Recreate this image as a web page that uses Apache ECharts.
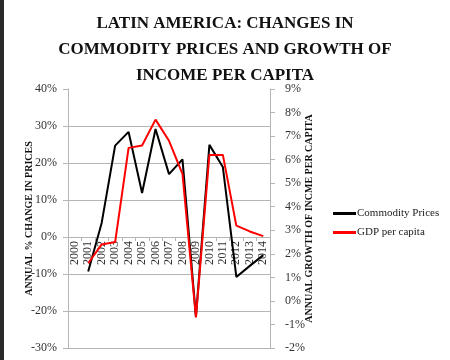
<!DOCTYPE html>
<html>
<head>
<meta charset="utf-8">
<script src="https://cdn.jsdelivr.net/npm/echarts@6/dist/echarts.min.js"></script>
<style>html,body{margin:0;padding:0;background:#fff}#c{width:450px;height:360px}</style>
</head>
<body>
<div id="c"></div>
<script>
var years = ['2000','2001','2002','2003','2004','2005','2006','2007','2008','2009','2010','2011','2012','2013','2014'];
var commodityPrices = [null, -9.3, 3.8, 24.7, 28.4, 11.9, 29.2, 17.0, 21.0, -21.5, 24.9, 18.9, -10.8, -7.8, -4.9];
var gdpPerCapita = [null, 1.6, 2.4, 2.5, 6.5, 6.6, 7.7, 6.8, 5.4, -0.7, 6.2, 6.2, 3.2, 2.95, 2.75];
var leftTicks = {min: -30, max: 40, interval: 10};
var rightTicks = {min: -2, max: 9, interval: 1};
var titleText = 'LATIN AMERICA: CHANGES IN\nCOMMODITY PRICES AND GROWTH OF\nINCOME PER CAPITA';

var serif = '"Liberation Serif", "DejaVu Serif", serif';
var gridTop = 89, gridBottom = 12, H = 360;
var plotH = H - gridTop - gridBottom;
// place the category axis on the 0% line of the left axis
var zeroOffset = -plotH * (0 - leftTicks.min) / (leftTicks.max - leftTicks.min);
var gridColors = [];
for (var v = leftTicks.min; v <= leftTicks.max; v += leftTicks.interval) {
  gridColors.push(v === leftTicks.max ? 'rgba(0,0,0,0)' : '#b5b5b5');
}

var chart = echarts.init(document.getElementById('c'), null, {renderer: 'canvas'});
chart.setOption({
  backgroundColor: '#fff',
  animation: false,
  title: {
    text: titleText,
    left: 'center',
    top: 6,
    textStyle: {fontFamily: serif, fontWeight: 'bold', fontSize: 17, lineHeight: 26, color: '#111'}
  },
  graphic: [{type: 'rect', left: 0, top: 0, shape: {width: 4, height: 360}, style: {fill: '#2a2a2a'}}],
  legend: {
    orient: 'vertical',
    left: 328,
    top: 203,
    itemWidth: 23,
    itemHeight: 3,
    itemGap: 8,
    icon: 'rect',
    textStyle: {fontFamily: serif, fontSize: 11, color: '#222', padding: [0, 0, 0, -4]},
    data: ['Commodity Prices', 'GDP per capita']
  },
  grid: {left: 68, right: 180, top: gridTop, bottom: gridBottom, containLabel: false, outerBoundsMode: 'none'},
  xAxis: {
    type: 'category',
    data: years,
    boundaryGap: true,
    position: 'bottom',
    offset: zeroOffset,
    axisLine: {show: true, onZero: false, lineStyle: {color: '#b5b5b5'}},
    axisTick: {show: true, length: 4, lineStyle: {color: '#b5b5b5'}},
    axisLabel: {rotate: 90, fontFamily: serif, fontSize: 12, color: '#333', margin: 4, interval: 0}
  },
  yAxis: [{
    type: 'value',
    min: leftTicks.min, max: leftTicks.max, interval: leftTicks.interval,
    name: 'ANNUAL % CHANGE IN PRICES',
    nameLocation: 'middle',
    nameRotate: 90,
    nameGap: 34,
    nameMoveOverlap: false,
    nameTextStyle: {fontFamily: serif, fontWeight: 'bold', fontSize: 10, color: '#111'},
    axisLine: {show: true, lineStyle: {color: '#b5b5b5'}},
    axisTick: {show: true, length: 5, lineStyle: {color: '#b5b5b5'}},
    axisLabel: {formatter: '{value}%', fontFamily: serif, fontSize: 12, color: '#333', margin: 11},
    splitLine: {show: true, lineStyle: {color: gridColors, width: 1}}
  }, {
    type: 'value',
    position: 'right',
    min: rightTicks.min, max: rightTicks.max, interval: rightTicks.interval,
    name: 'ANNUAL GROWTH OF INCME PER CAPITA',
    nameLocation: 'middle',
    nameRotate: 90,
    nameGap: 34,
    nameMoveOverlap: false,
    nameTextStyle: {fontFamily: serif, fontWeight: 'bold', fontSize: 10, color: '#111'},
    axisLine: {show: true, lineStyle: {color: '#b5b5b5'}},
    axisTick: {show: true, length: 5, lineStyle: {color: '#b5b5b5'}},
    axisLabel: {formatter: '{value}%', fontFamily: serif, fontSize: 12, color: '#333', margin: 15},
    splitLine: {show: false}
  }],
  series: [{
    name: 'Commodity Prices',
    type: 'line',
    yAxisIndex: 0,
    data: commodityPrices,
    showSymbol: false,
    symbol: 'none',
    lineStyle: {color: '#000', width: 2},
    itemStyle: {color: '#000'}
  }, {
    name: 'GDP per capita',
    type: 'line',
    yAxisIndex: 1,
    data: gdpPerCapita,
    showSymbol: false,
    symbol: 'none',
    lineStyle: {color: '#ff0000', width: 2},
    itemStyle: {color: '#ff0000'}
  }]
});
</script>
</body>
</html>
